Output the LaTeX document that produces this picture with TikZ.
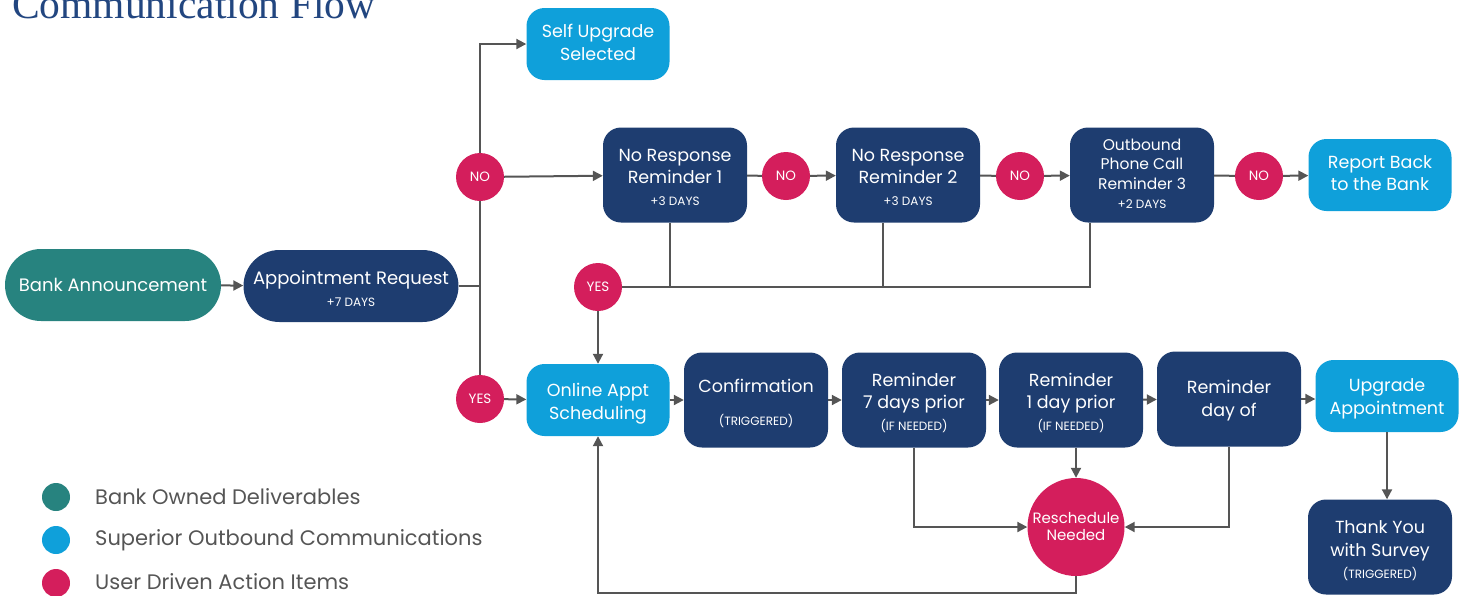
\documentclass[tikz,border=0pt]{standalone}
\usepackage{fontspec}
\setmainfont{Poppins}
\newfontfamily\titlefont{Liberation Serif}
\usetikzlibrary{arrows.meta,shapes.geometric}
\definecolor{cTeal}{HTML}{27837F}
\definecolor{cNavy}{HTML}{1E3D70}
\definecolor{cSky}{HTML}{0FA0DA}
\definecolor{cPink}{HTML}{D41E5C}
\definecolor{cLine}{HTML}{555555}
\definecolor{cTitle}{HTML}{224680}
\newcommand{\fs}[1]{\fontsize{#1}{#1}\selectfont}
\newcommand{\bx}[2]{\raisebox{-#1}[\height][\depth]{\begin{tabular}{@{}c@{}}#2\end{tabular}}}
\begin{document}
\begin{tikzpicture}[x=1pt,y=-1pt,
  every node/.style={inner sep=0pt, align=center, text=white},
  pill/.style={rounded corners=36pt, minimum width=216pt, minimum height=72pt, font=\fs{18}},
  navybox/.style={fill=cNavy, rounded corners=18pt, minimum width=144pt, minimum height=95pt, font=\fs{17.5}},
  skybox/.style={fill=cSky, rounded corners=18pt, minimum width=143pt, minimum height=72pt, font=\fs{17.5}},
  dot/.style={circle, fill=cPink, minimum size=48pt, font=\fs{13.5}},
  ln/.style={draw=cLine, line width=2pt},
  arr/.style={draw=cLine, line width=2pt, -{Triangle[length=10pt,width=10pt]}},
  leg/.style={circle, minimum size=28pt},
  legtext/.style={anchor=west, text=cLine, font=\fs{21}}
]
\useasboundingbox (0,0) rectangle (1466,595);
\node[anchor=base west, text=cTitle, font=\titlefont\fs{41.5}] (title) at (12,18) {Communication Flow};

\node[pill, fill=cTeal] (bank) at (113,285) {Bank Announcement};
\node[pill, fill=cNavy, minimum width=215pt] (appt) at (351,286) {\bx{5pt}{Appointment Request\\[4pt]{\fs{12}+7 DAYS}}};

\node[dot] (no0) at (480,177) {NO};
\node[dot] (yes0) at (480,399) {YES};
\node[skybox] (self) at (598,44) {\bx{1pt}{Self Upgrade\\[4.5pt]Selected}};

\node[navybox] (nr1) at (675,175) {\bx{5pt}{No Response\\[4pt]Reminder 1\\[4.5pt]{\fs{12}+3 DAYS}}};
\node[dot] (no1) at (786,176) {NO};
\node[navybox] (nr2) at (908,175) {\bx{5pt}{No Response\\[4pt]Reminder 2\\[4.5pt]{\fs{12}+3 DAYS}}};
\node[dot] (no2) at (1020,176) {NO};
\node[navybox, font=\fs{15.5}] (ob) at (1142,175) {\bx{1pt}{Outbound\\[3.5pt]Phone Call\\[3.5pt]Reminder 3\\[3.5pt]{\fs{12}+2 DAYS}}};
\node[dot] (no3) at (1259,176) {NO};
\node[skybox] (report) at (1380,175) {\bx{1pt}{Report Back\\[4pt]to the Bank}};

\node[dot] (yes1) at (598,287) {YES};
\coordinate (j1) at (670,287);
\coordinate (j2) at (883,287);
\coordinate (j3) at (1090,287);

\node[skybox] (online) at (598,400) {\bx{4pt}{Online Appt\\[4pt]Scheduling}};
\node[navybox] (conf) at (756,400) {\bx{5pt}{Confirmation\\[15pt]{\fs{12}(TRIGGERED)}}};
\node[navybox] (rem7) at (914,400) {\bx{4pt}{Reminder\\[4pt]7 days prior\\[4pt]{\fs{12}(IF NEEDED)}}};
\node[navybox] (rem1) at (1071,400) {\bx{4pt}{Reminder\\[4pt]1 day prior\\[4pt]{\fs{12}(IF NEEDED)}}};
\node[navybox] (remd) at (1229,399) {\bx{2pt}{Reminder\\[4pt]day of}};
\node[skybox] (upg) at (1387,396) {\bx{3pt}{Upgrade\\[4pt]Appointment}};
\node[navybox] (thanks) at (1380,547) {\bx{5pt}{Thank You\\[4pt]with Survey\\[4.5pt]{\fs{12}(TRIGGERED)}}};
\node[ellipse, fill=cPink, inner xsep=-14pt, minimum width=97pt, minimum height=98pt, font=\fs{15}] (resch) at (1076,527) {Reschedule\\[2pt]Needed};
\coordinate (bt) at (1076,593);

% connectors
\draw[arr] (bank) -- (appt);
\draw[ln] (appt.east) -| (no0);
\draw[ln] (appt.east) -| (yes0);
\draw[arr] (no0) |- (self.west);
\draw[arr] (no0) -- (nr1);
\draw[ln] (nr1) -- (no1);
\draw[arr] (no1) -- (nr2);
\draw[ln] (nr2) -- (no2);
\draw[arr] (no2) -- (ob);
\draw[ln] (ob) -- (no3);
\draw[arr] (no3) -- (report);

\draw[ln] (yes1) -- (j3) -- (ob.south -| j3);
\draw[ln] (j1) -- (nr1.south -| j1);
\draw[ln] (j2) -- (nr2.south -| j2);
\draw[arr] (yes1) -- (online);
\draw[arr] (yes0) -- (online);

\draw[arr] (online) -- (conf);
\draw[arr] (conf) -- (rem7);
\draw[arr] (rem7) -- (rem1);
\draw[arr] (rem1) -- (remd);
\draw[arr] (remd.east) -- (remd.east -| upg.west);
\draw[arr] (upg.south) -- (upg.south |- thanks.north);

\draw[arr] (rem7.south) |- (resch.west);
\draw[arr] (rem1.south -| resch) -- (resch.north);
\draw[arr] (remd.south) |- (resch.east);
\draw[arr] (resch.south) -- (bt) -| (online.south);

% legend
\node[leg, fill=cTeal] (l1) at (56,497) {};
\node[leg, fill=cSky] (l2) at (56,540) {};
\node[leg, fill=cPink] (l3) at (56,583) {};
\node[legtext] (t1) at (95,497) {Bank Owned Deliverables};
\node[legtext] (t2) at (95,540) {Superior Outbound Communications};
\node[legtext] (t3) at (95,582) {User Driven Action Items};
\end{tikzpicture}
\end{document}
